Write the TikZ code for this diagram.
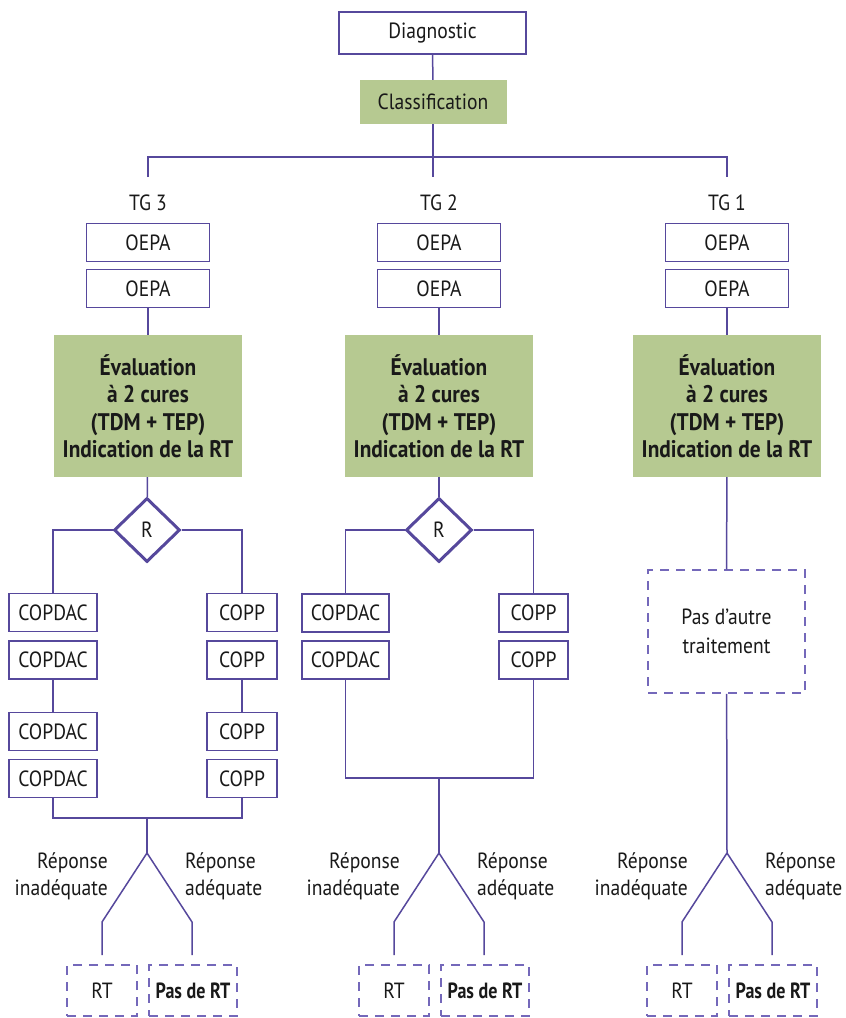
\documentclass[tikz,border=0pt]{standalone}
\usepackage{fontspec}
\setmainfont{PT Sans}[FakeStretch=0.89]
\newfontfamily\narrowbold{PT Sans Bold}[FakeStretch=0.82]
\usetikzlibrary{shapes.geometric,calc}
\definecolor{linec}{RGB}{86,72,156}
\definecolor{dashc}{RGB}{116,104,186}
\definecolor{evalg}{RGB}{182,201,145}
\definecolor{inkc}{RGB}{25,25,25}
\begin{document}
\begin{tikzpicture}[x=1pt,y=-1pt,
  every node/.style={text=inkc,font=\fontsize{22}{27}\selectfont,inner sep=0pt},
  conn/.style={draw=linec,line width=1.5pt},
  box/.style={draw=linec,line width=1.5pt,fill=white,minimum height=38pt},
  oepa/.style={box,minimum width=123pt},
  evalbox/.style={fill=evalg,minimum width=188pt,minimum height=142pt,align=center,
    font=\fontsize{24}{27.5}\selectfont\bfseries},
  choice/.style={diamond,draw=linec,line width=3pt,fill=white,minimum width=66pt,minimum height=64pt},
  dbox/.style={draw=dashc,line width=1.5pt,dash pattern=on 9pt off 7pt,minimum height=51pt},
  lbl/.style={align=right,anchor=east},
  rbl/.style={align=left,anchor=west}]
\useasboundingbox (0,0) rectangle (846,1018);

% top of the chart
\node[box,minimum width=187pt,minimum height=42pt] (diag) at (432.5,33) {Diagnostic};
\node[fill=evalg,minimum width=147pt,minimum height=44pt] (cls) at (433,102) {Classification};
\coordinate (hub) at (433,157);
\coordinate (h1) at (148,157);
\coordinate (h3) at (727,157);
\coordinate (s1) at (148,177);
\coordinate (s2) at (433,177);
\coordinate (s3) at (727,177);
\draw[conn] (diag) -- (cls);
\draw[conn] (cls) -- (hub) -- (s2);
\draw[conn] (s1) -- (h1) -- (h3) -- (s3);

% group labels, initial cycles and evaluation
\foreach \c/\n/\t in {148/1/TG 3, 439/2/TG 2, 727/3/TG 1}{
  \node (tg\n) at (\c,203) {\t};
  \node[oepa] (oa\n) at (\c,242.5) {OEPA};
  \node[oepa] (ob\n) at (\c,288.5) {OEPA};
  \node[evalbox] (ev\n) at (\c,406) {Évaluation\\à 2 cures\\(TDM + TEP)\\Indication de la RT};
  \draw[conn] (ob\n) -- (ev\n);
}

% TG 3 branch
\node[choice] (r1) at (147,530) {R};
\draw[conn] (ev1) -- (r1);
\node[box,minimum width=88pt] (cda1) at (53,612.5) {COPDAC};
\node[box,minimum width=88pt] (cdb1) at (53,660) {COPDAC};
\node[box,minimum width=88pt] (cdc1) at (53,731.5) {COPDAC};
\node[box,minimum width=88pt] (cdd1) at (53,778.5) {COPDAC};
\node[box,minimum width=70pt] (cpa1) at (242,612.5) {COPP};
\node[box,minimum width=70pt] (cpb1) at (242,660) {COPP};
\node[box,minimum width=70pt] (cpc1) at (242,731.5) {COPP};
\node[box,minimum width=70pt] (cpd1) at (242,778.5) {COPP};
\draw[conn] (r1.west) -| (cda1.north);
\draw[conn] (r1.east) -| (cpa1.north);
\draw[conn] (cdb1) -- (cdc1);
\draw[conn] (cpb1) -- (cpc1);
\coordinate (j1) at (147,818);
\draw[conn] (cdd1.south) |- (j1) -| (cpd1.south);
\coordinate (f1) at (147,853);
\draw[conn] (j1) -- (f1);

% TG 2 branch
\node[choice] (r2) at (439,530) {R};
\draw[conn] (ev2) -- (r2);
\node[box,minimum width=87pt] (cda2) at (345.5,613) {COPDAC};
\node[box,minimum width=87pt] (cdb2) at (345.5,660) {COPDAC};
\node[box,minimum width=69pt] (cpa2) at (533.5,613) {COPP};
\node[box,minimum width=69pt] (cpb2) at (533.5,660) {COPP};
\draw[conn] (r2.west) -| (cda2.north);
\draw[conn] (r2.east) -| (cpa2.north);
\coordinate (j2) at (439,778);
\draw[conn] (cdb2.south) |- (j2) -| (cpb2.south);
\coordinate (f2) at (439,853);
\draw[conn] (j2) -- (f2);

% TG 1 branch
\node[dbox,minimum width=157pt,minimum height=123pt,align=center,
  font=\fontsize{22}{29}\selectfont] (nat) at (726.5,631.5) {Pas d’autre\\traitement};
\draw[conn] (ev3) -- (nat);
\coordinate (f3) at (727,853);
\draw[conn] (nat) -- (f3);

% response forks and radiotherapy decision
\foreach \n in {1,2,3}{
  \node[dbox,minimum width=70pt] (rt\n) at ($(f\n)+(-45,137.5)$) {RT};
  \node[dbox,minimum width=88pt,font=\fontsize{22}{27}\narrowbold] (nrt\n) at ($(f\n)+(46,137.5)$) {Pas de RT};
  \coordinate (ea\n) at ($(f\n)+(-45,102)$);
  \coordinate (eb\n) at ($(f\n)+(45,102)$);
  \draw[conn] (f\n) -- ++(-45,69) -- (ea\n);
  \draw[conn] (f\n) -- ++(45,69) -- (eb\n);
  \node[lbl] (ri\n) at ($(f\n)+(-39,23.5)$) {Réponse\\inadéquate};
  \node[rbl] (ra\n) at ($(f\n)+(38,23.5)$) {Réponse\\adéquate};
}
\end{tikzpicture}
\end{document}
